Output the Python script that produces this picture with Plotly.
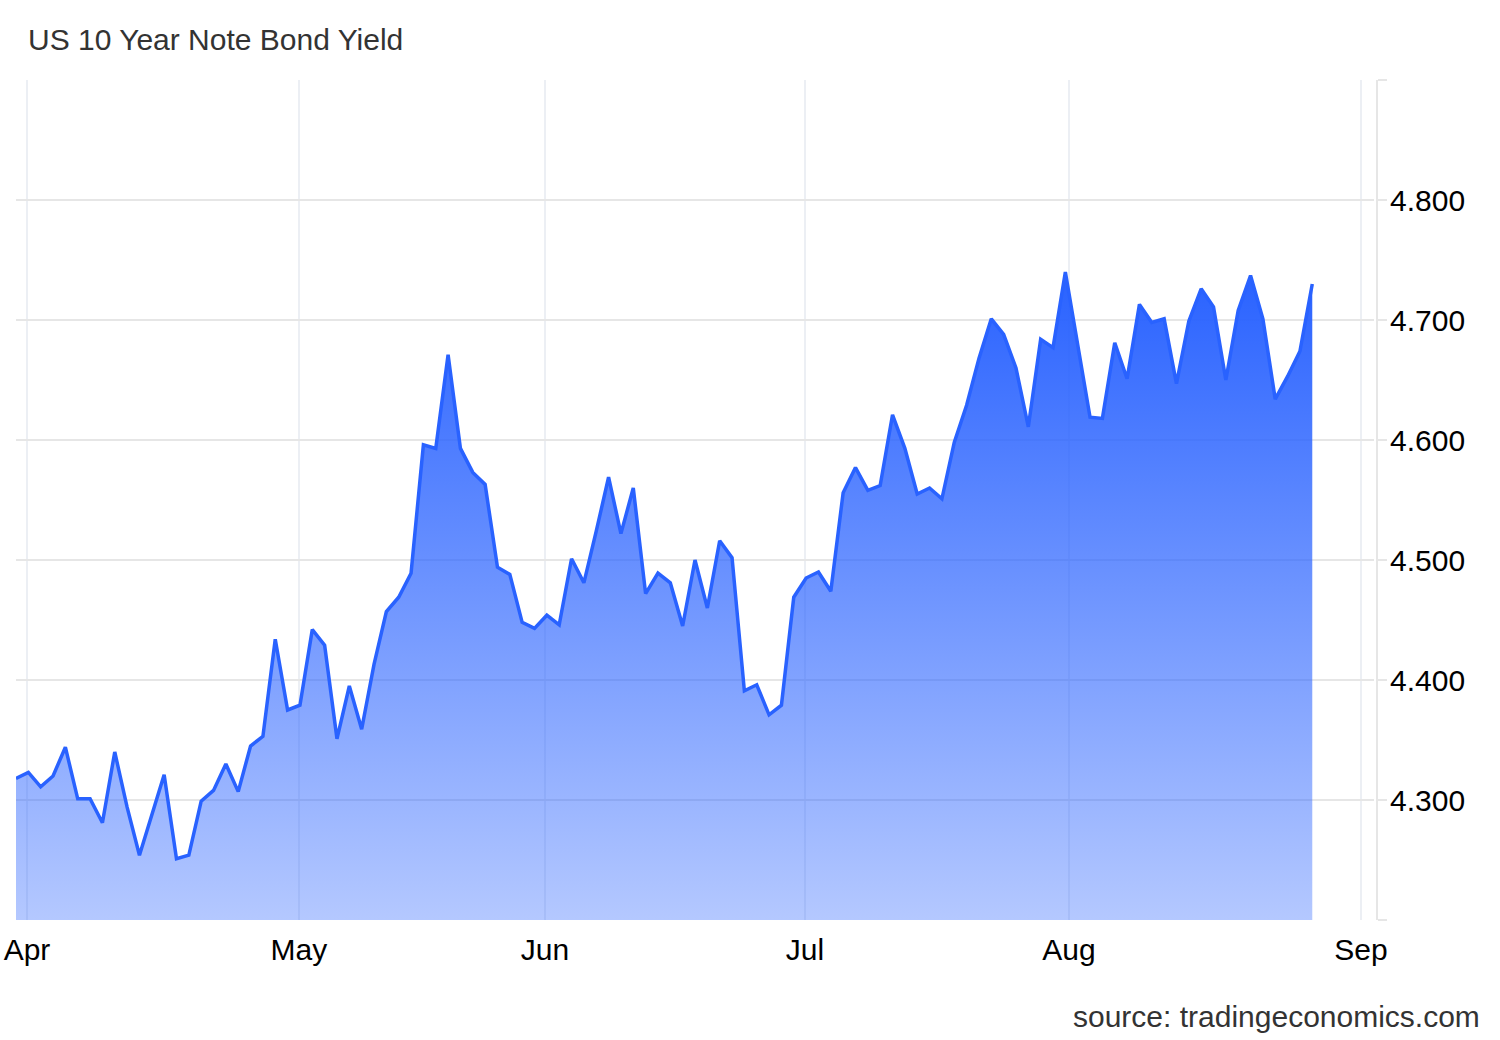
import plotly.graph_objects as go

# ---- data ----
trading_day = list(range(106))
yields = [
    4.318, 4.323, 4.311, 4.320, 4.344, 4.301, 4.301, 4.281, 4.340, 4.294,
    4.254, 4.288, 4.321, 4.251, 4.254, 4.299, 4.308, 4.330, 4.307, 4.345,
    4.353, 4.434, 4.375, 4.379, 4.442, 4.429, 4.351, 4.395, 4.359, 4.413,
    4.457, 4.469, 4.489, 4.596, 4.593, 4.671, 4.593, 4.573, 4.563, 4.494,
    4.488, 4.448, 4.443, 4.454, 4.446, 4.501, 4.481, 4.524, 4.569, 4.522,
    4.560, 4.472, 4.489, 4.481, 4.445, 4.500, 4.460, 4.516, 4.502, 4.391,
    4.396, 4.371, 4.379, 4.469, 4.485, 4.490, 4.474, 4.556, 4.577, 4.558,
    4.562, 4.621, 4.593, 4.555, 4.560, 4.551, 4.598, 4.629, 4.668, 4.701,
    4.688, 4.660, 4.611, 4.684, 4.677, 4.740, 4.681, 4.619, 4.618, 4.681,
    4.651, 4.713, 4.698, 4.701, 4.647, 4.699, 4.726, 4.711, 4.650, 4.708,
    4.737, 4.701, 4.634, 4.653, 4.674, 4.730,
]
month_tick_pos = [0.89, 22.92, 42.85, 63.91, 85.29, 108.94]
month_labels = ["Apr", "May", "Jun", "Jul", "Aug", "Sep"]
y_tick_vals = [4.2, 4.3, 4.4, 4.5, 4.6, 4.7, 4.8, 4.9]
y_tick_text = ["", "4.300", "4.400", "4.500", "4.600", "4.700", "4.800", ""]
y_range = [4.2, 4.9]
x_range = [0, 110]

title_text = "US 10 Year Note Bond Yield"
source_text = "source: tradingeconomics.com"

FONT = "Liberation Sans, Arial, sans-serif"
FS = 30
BLUE = "rgb(41,98,255)"

fig = go.Figure()
fig.add_trace(go.Scatter(
    x=trading_day,
    y=yields,
    mode="lines",
    line=dict(color=BLUE, width=3.5),
    fill="tozeroy",
    fillgradient=dict(
        type="vertical",
        colorscale=[[0, "rgba(41,98,255,0.35)"], [1, "rgba(41,98,255,1)"]],
        start=y_range[0],
        stop=max(yields),
    ),
    hoverinfo="skip",
    showlegend=False,
))

W, H = 1500, 1040
ml, mr, mt, mb = 16, 123, 80, 120
plot_w = W - ml - mr
plot_h = H - mt - mb

fig.update_layout(
    width=W,
    height=H,
    margin=dict(l=ml, r=mr, t=mt, b=mb, pad=0, autoexpand=False),
    paper_bgcolor="white",
    plot_bgcolor="white",
    font=dict(family=FONT, size=FS, color="black"),
    title=dict(
        text=title_text,
        font=dict(family=FONT, size=FS, color="#333333"),
        xref="container", yref="container",
        x=28 / W, xanchor="left",
        y=1 - 39 / H, yanchor="middle",
    ),
    xaxis=dict(
        range=x_range,
        domain=[0, (plot_w - 3) / plot_w],
        tickvals=month_tick_pos,
        ticktext=month_labels,
        showgrid=True,
        gridcolor="#eceff4",
        gridwidth=1.5,
        zeroline=False,
        showline=False,
        ticks="",
        ticklabelstandoff=9,
        ticklabeloverflow="allow",
        automargin=False,
        tickfont=dict(family=FONT, size=FS, color="black"),
    ),
    yaxis=dict(
        range=y_range,
        side="right",
        anchor="free",
        position=1,
        tickvals=y_tick_vals,
        ticktext=y_tick_text,
        showgrid=True,
        gridcolor="#e6e6e6",
        gridwidth=2,
        zeroline=False,
        showline=True,
        linecolor="#e6e6e6",
        linewidth=2,
        ticks="outside",
        ticklen=9,
        tickwidth=2,
        tickcolor="#e6e6e6",
        ticklabelstandoff=-3,
        automargin=False,
        tickfont=dict(family=FONT, size=FS, color="black"),
    ),
    annotations=[dict(
        text=source_text,
        xref="paper", yref="paper",
        x=(1482 - ml) / plot_w, xanchor="right",
        y=(920 - 1016) / plot_h, yanchor="middle",
        showarrow=False,
        font=dict(family=FONT, size=FS, color="#333333"),
    )],
)

fig.write_html(
    "out.html",
    config={"displayModeBar": False},
    post_script="document.body.style.margin='0';document.body.style.overflow='hidden';",
)
